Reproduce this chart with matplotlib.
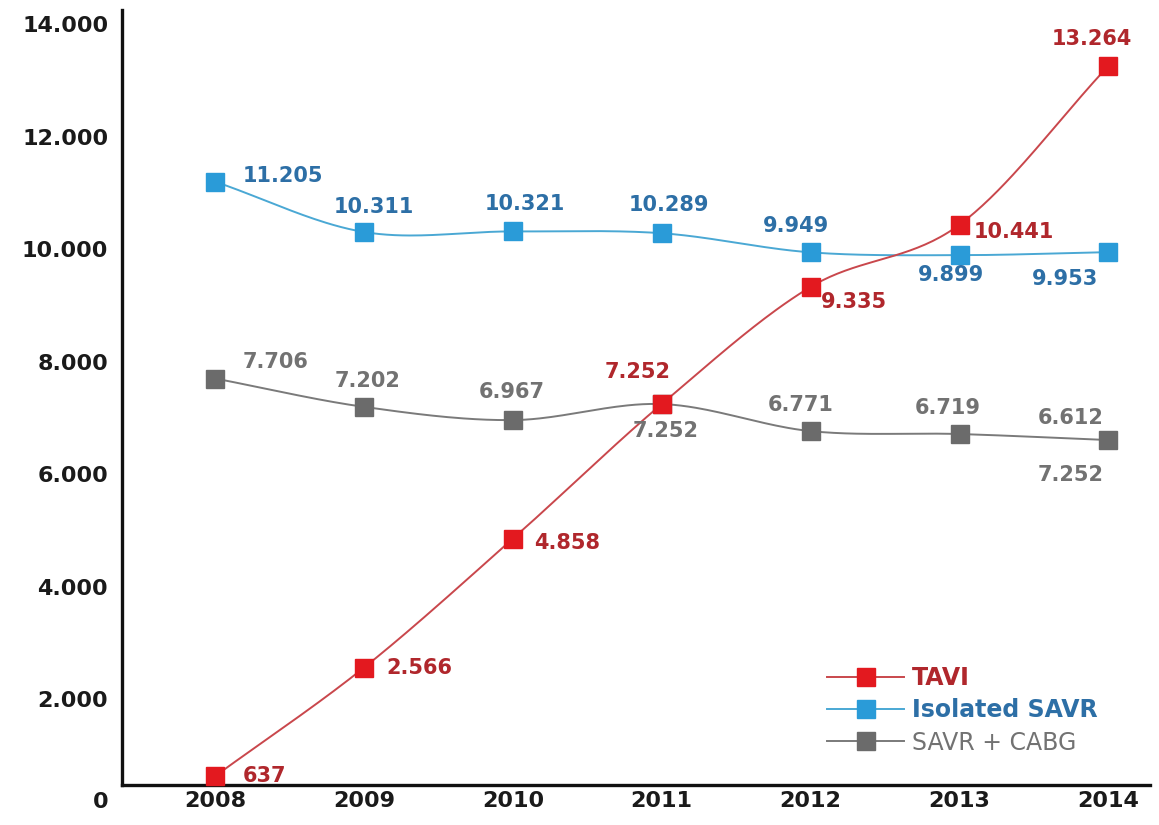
import numpy as np
import matplotlib.pyplot as plt

# annual procedure counts
years = [2008, 2009, 2010, 2011, 2012, 2013, 2014]
tavi = [637, 2566, 4858, 7252, 9335, 10441, 13264]
savr = [11205, 10311, 10321, 10289, 9949, 9899, 9953]
savr_cabg = [7706, 7202, 6967, 7252, 6771, 6719, 6612]

y_ticks = [0, 2000, 4000, 6000, 8000, 10000, 12000, 14000]


def fmt(v):
    return f'{v:,}'.replace(',', '.')


def smooth(x, y, n=40):
    # catmull-rom curve through the points
    x = np.asarray(x, float)
    y = np.asarray(y, float)
    xp = np.concatenate([[2 * x[0] - x[1]], x, [2 * x[-1] - x[-2]]])
    yp = np.concatenate([[2 * y[0] - y[1]], y, [2 * y[-1] - y[-2]]])
    t = np.linspace(0, 1, n)
    xs, ys = [], []
    for i in range(1, len(xp) - 2):
        for arr, res in ((xp, xs), (yp, ys)):
            p0, p1, p2, p3 = arr[i - 1:i + 3]
            res.append(0.5 * (2 * p1 + (-p0 + p2) * t
                              + (2 * p0 - 5 * p1 + 4 * p2 - p3) * t ** 2
                              + (-p0 + 3 * p1 - 3 * p2 + p3) * t ** 3))
    return np.concatenate(xs), np.concatenate(ys)


plt.rcParams['font.family'] = ['DejaVu Sans']

fig = plt.figure(figsize=(11.59, 8.25), dpi=100)
ax = fig.add_axes([0.1053, 0.0158, 0.887, 0.9721])

# spines first: moving a spine resets the ticks
for s in ('top', 'right'):
    ax.spines[s].set_visible(False)
ax.spines['bottom'].set_position(('data', 480))
ax.spines['left'].set_bounds(480, 14258)
for s in ('left', 'bottom'):
    ax.spines[s].set_linewidth(2.4)
    ax.spines[s].set_color('#111111')

series = [
    ('SAVR + CABG', savr_cabg, '#6b6b6b', '#7a7a7a', '#727272'),
    ('Isolated SAVR', savr, '#2a9bd8', '#4aa8d4', '#2d6fa6'),
    ('TAVI', tavi, '#e3191f', '#c9474c', '#b0272c'),
]

handles = {}
for name, vals, mcol, lcol, tcol in series:
    sx, sy = smooth(years, vals)
    ax.plot(sx, sy, color=lcol, lw=1.4, zorder=2)
    ax.plot(years, vals, 's', color=mcol, ms=13, zorder=3)
    handles[name] = ax.plot([], [], '-s', color=lcol, mfc=mcol, mec=mcol,
                            ms=13, lw=1.4)[0]

# label offsets in pixels (dx, dy, ha)
tavi_off = [(28, 0, 'left'), (22, 0, 'left'), (21, -4, 'left'), (-24, 32, 'center'),
            (10, -15, 'left'), (14, -7, 'left'), (-17, 27, 'center')]
savr_off = [(28, 6, 'left'), (10, 25, 'center'), (12, 27, 'center'), (7, 28, 'center'),
            (-15, 26, 'center'), (-9, -20, 'center'), (-43, -27, 'center')]
cabg_off = [(28, 17, 'left'), (4, 26, 'center'), (-1, 28, 'center'), (4, -27, 'center'),
            (-10, 26, 'center'), (-12, 26, 'center'), (-38, 22, 'center')]

for vals, offs, col in ((tavi, tavi_off, '#b0272c'),
                        (savr, savr_off, '#2d6fa6'),
                        (savr_cabg, cabg_off, '#727272')):
    for x, v, (dx, dy, ha) in zip(years, vals, offs):
        ax.annotate(fmt(v), (x, v), xytext=(dx, dy), textcoords='offset pixels',
                    ha=ha, va='center', fontsize=15, fontweight='bold', color=col,
                    zorder=4)

ax.annotate(fmt(savr_cabg[3]), (years[-1], savr_cabg[-1]), xytext=(-38, -35),
            textcoords='offset pixels', ha='center', va='center', fontsize=15,
            fontweight='bold', color='#727272')

ax.set_xlim(2007.375, 2014.28)
ax.set_ylim(0, 14258)
ax.set_xticks(years)
ax.set_xticklabels([str(y) for y in years], fontweight='bold', fontsize=16)
ax.set_yticks(y_ticks)
ax.set_yticklabels([fmt(v) for v in y_ticks], fontweight='bold', fontsize=16)
ax.tick_params(length=0, colors='#1a1a1a')
ax.tick_params(axis='y', pad=10)
ax.tick_params(axis='x', pad=4)
ax.get_yticklabels()[0].set_verticalalignment('bottom')

leg = ax.legend([handles['TAVI'], handles['Isolated SAVR'], handles['SAVR + CABG']],
                ['TAVI', 'Isolated SAVR', 'SAVR + CABG'],
                loc='upper left', bbox_to_anchor=(0.703, 0.207),
                bbox_transform=fig.transFigure, frameon=False, fontsize=17,
                numpoints=1, handlelength=3.3, handletextpad=0.3,
                labelspacing=0.35, borderpad=0)
for txt, col, w in zip(leg.get_texts(), ['#b0272c', '#2d6fa6', '#727272'],
                       ['bold', 'bold', 'normal']):
    txt.set_color(col)
    txt.set_fontweight(w)

fig.savefig('out.png', dpi=100)
